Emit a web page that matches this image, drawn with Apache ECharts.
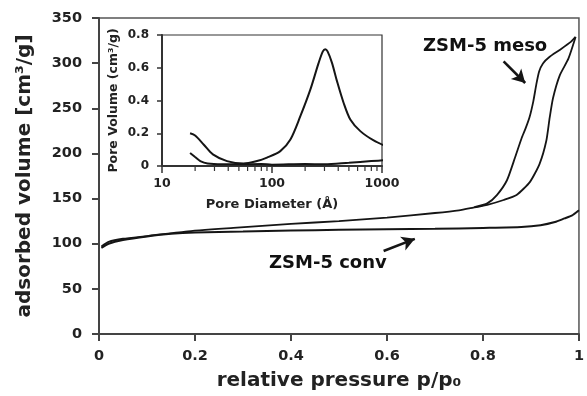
<!DOCTYPE html>
<html><head><meta charset="utf-8">
<script src="https://cdn.jsdelivr.net/npm/echarts@6/dist/echarts.min.js"></script>
<style>html,body{margin:0;padding:0;background:#fff}#c{width:587px;height:396px}</style>
</head><body><div id="c"></div>
<script>
// Main isotherms: relative pressure p/p0 vs adsorbed volume
const mesoAdsP = [0.005,0.02,0.05,0.1,0.18,0.28,0.4,0.5,0.6,0.7,0.75,0.78,0.809,0.843,0.870,0.898,0.918,0.932,0.939,0.946,0.960,0.978,0.993];
const mesoAdsV = [97,102,105.5,108.5,113.5,117.5,122,125,129,134,137,140,143,148.4,154,168.5,188.5,214,239.6,261.4,286.5,305,329];
const mesoDesP = [0.993,0.983,0.959,0.939,0.925,0.917,0.911,0.905,0.897,0.889,0.881,0.867,0.850,0.829,0.809,0.782];
const mesoDesV = [329,323.5,314.3,307,299.7,290.7,276,258,240,228,217.7,195.8,170.3,153.9,144.7,140.4];
const convP = [0.005,0.02,0.05,0.1,0.15,0.2,0.3,0.4,0.5,0.6,0.7,0.8,0.88,0.92,0.95,0.97,0.985,1.0];
const convV = [95.5,100,104,108,111,112.5,113.5,114.5,115.5,116,116.5,117.5,118.5,120.5,124,128,131,137];
// Inset: pore size distribution
const psdMesoD = [18,20,24,29,39,55,73,90,119,147,181,223,265,290,305,320,351,389,448,515,635,840,1110];
const psdMesoV = [0.20,0.186,0.13,0.071,0.03,0.015,0.03,0.051,0.091,0.162,0.304,0.466,0.628,0.70,0.713,0.70,0.63,0.52,0.385,0.284,0.213,0.156,0.118];
const psdConvD = [18,20,22.3,26,35,50,80,100,200,300,500,800,1110];
const psdConvV = [0.08,0.055,0.03,0.015,0.01,0.01,0.012,0.008,0.012,0.01,0.02,0.03,0.036];
// Tick labels / ranges
const mainXTicks = [0,0.2,0.4,0.6,0.8,1];
const mainYTicks = [0,50,100,150,200,250,300,350];
const insetXTicks = [10,100,1000];
const insetXMinorTicks = [20,30,40,50,60,70,80,90,200,300,400,500,600,700,800,900];
const insetYTicks = [0,0.2,0.4,0.6,0.8];
// Annotation arrows (data coords)
const mesoArrow = [[0.843,302],[0.888,278]];
const convArrow = [[0.593,92],[0.658,105.4]];

const zip = (a,b) => a.map((v,i)=>[v,b[i]]);
const F = 'DejaVu Sans';
const C = '#151515';
const chart = echarts.init(document.getElementById('c'), null, {renderer:'canvas'});
const lineSeries = (name, x, y, xi, yi, w, sm) => ({
  name, type:'line', xAxisIndex:xi, yAxisIndex:yi, data: zip(x,y),
  showSymbol:false, smooth:sm, clip:false,
  lineStyle:{color:C, width:w}, z:3
});
const arrowLine = (pts) => ({
  silent:true, symbol:['none','arrow'], symbolSize:[11,13],
  lineStyle:{color:C, width:2.6, type:'solid'}, label:{show:false},
  data:[[{coord:pts[0]},{coord:pts[1]}]]
});
const s1 = lineSeries('meso-ads', mesoAdsP, mesoAdsV, 0, 0, 1.8, 0.2);
s1.markLine = arrowLine(mesoArrow);
const s3 = lineSeries('conv', convP, convV, 0, 0, 2, 0.2);
s3.markLine = arrowLine(convArrow);

chart.setOption({
  animation:false,
  backgroundColor:'#fff',
  textStyle:{fontFamily:F},
  grid:[
    {left:99, right:1, top:18, bottom:57, show:true, borderColor:'#555', borderWidth:1.5},
    {left:162, top:35, width:220, height:131, show:true, borderColor:'#333', borderWidth:1.2}
  ],
  xAxis:[
    {gridIndex:0, type:'value', min:mainXTicks[0], max:mainXTicks[mainXTicks.length-1], interval:0.2,
     axisLine:{lineStyle:{color:'#444', width:2}}, axisTick:{length:7, lineStyle:{color:'#444', width:2}},
     splitLine:{show:false},
     axisLabel:{color:'#222', fontFamily:F, fontWeight:'bold', fontSize:14.5, margin:15},
     name:'relative pressure p/p₀', nameLocation:'middle', nameGap:37,
     nameTextStyle:{color:'#222', fontFamily:F, fontWeight:'bold', fontSize:20}},
    {gridIndex:1, type:'log', logBase:10, min:insetXTicks[0], max:insetXTicks[insetXTicks.length-1],
     axisLine:{lineStyle:{color:'#333', width:2}}, axisTick:{length:7, lineStyle:{color:'#333', width:1.5}},
     splitLine:{show:false},
     axisLabel:{color:'#222', fontFamily:F, fontWeight:'bold', fontSize:12.5, margin:11, formatter:v=>String(v)},
     name:'Pore Diameter (Å)', nameLocation:'middle', nameGap:32,
     nameTextStyle:{color:'#222', fontFamily:F, fontWeight:'bold', fontSize:13}}
  ],
  yAxis:[
    {gridIndex:0, type:'value', min:mainYTicks[0], max:mainYTicks[mainYTicks.length-1], interval:50,
     axisLine:{show:true, lineStyle:{color:'#444', width:2}}, axisTick:{show:true, length:7, lineStyle:{color:'#444', width:2}},
     splitLine:{show:false},
     axisLabel:{color:'#222', fontFamily:F, fontWeight:'bold', fontSize:14.5, margin:17},
     name:'adsorbed volume [cm³/g]', nameLocation:'middle', nameGap:64,
     nameTextStyle:{color:'#222', fontFamily:F, fontWeight:'bold', fontSize:20}},
    {gridIndex:1, type:'value', min:insetYTicks[0], max:insetYTicks[insetYTicks.length-1], interval:0.2,
     axisLine:{show:true, lineStyle:{color:'#333', width:2}}, axisTick:{show:true, length:5, lineStyle:{color:'#333', width:1.5}},
     splitLine:{show:false},
     axisLabel:{color:'#222', fontFamily:F, fontWeight:'bold', fontSize:12, margin:13},
     name:'Pore Volume (cm³/g)', nameLocation:'middle', nameGap:42,
     nameTextStyle:{color:'#222', fontFamily:F, fontWeight:'bold', fontSize:12.5}}
  ],
  graphic:[
    {type:'text', left:423, top:37, silent:true, style:{text:'ZSM-5 meso', fill:'#111', font:'bold 18px "DejaVu Sans"'}},
    {type:'text', left:269, top:254, silent:true, style:{text:'ZSM-5 conv', fill:'#111', font:'bold 18px "DejaVu Sans"'}}
  ],
  series:[
    s1,
    lineSeries('meso-des', mesoDesP, mesoDesV, 0, 0, 1.8, 0.2),
    s3,
    lineSeries('psd-meso', psdMesoD, psdMesoV, 1, 1, 2, 0.3),
    lineSeries('psd-conv', psdConvD, psdConvV, 1, 1, 2, 0.3),
    {type:'custom', xAxisIndex:1, yAxisIndex:1, silent:true, clip:false, z:4,
     data: insetXMinorTicks.map(v=>[v,0]),
     renderItem:(params, api)=>{
       const p = api.coord([api.value(0), 0]);
       return {type:'line', shape:{x1:p[0], y1:p[1]+1, x2:p[0], y2:p[1]+5}, style:{stroke:'#333', lineWidth:1.2}};
     }}
  ]
});
</script></body></html>
